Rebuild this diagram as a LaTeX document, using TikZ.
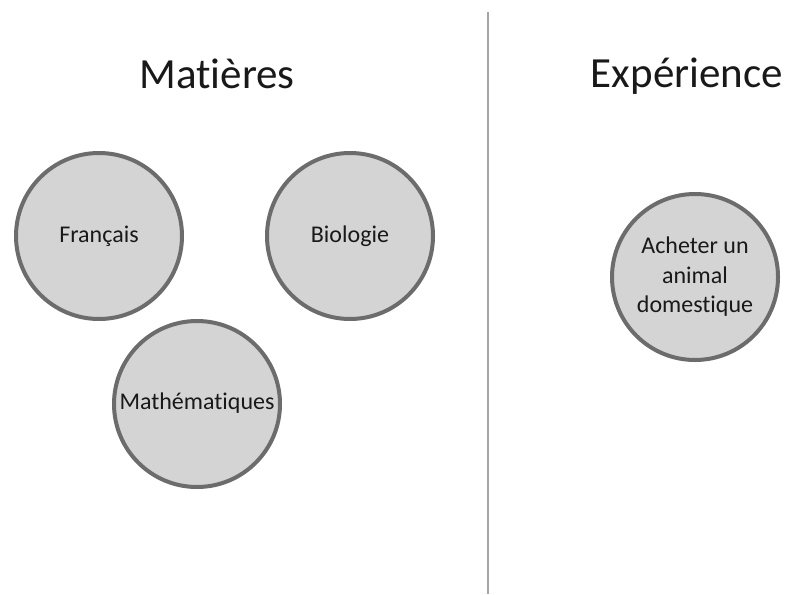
\documentclass[tikz,border=0pt]{standalone}
\usepackage{fontspec}
\setmainfont{Carlito}[Ligatures={NoCommon}]
\begin{document}
\begin{tikzpicture}[x=1pt,y=-1pt,
  theme/.style={circle,draw=gray!85!black,line width=4pt,fill=black!17,
    minimum size=166pt,inner sep=0pt,text=black!90,
    font=\fontsize{24}{29.5}\selectfont,align=center},
  heading/.style={anchor=base,text=black!90,font=\fontsize{43}{50}\selectfont}]
\useasboundingbox (0,0) rectangle (791,594);

\node[heading] (mat) at (217,88) {Matières};
\node[heading] (exp) at (687,87) {Expérience};

\node[theme] (fr) at (99,236) {Français};
\node[theme] (bio) at (350,236) {Biologie};
\node[theme] (math) at (197,404) {\raisebox{6pt}{Mathématiques}};

\node[theme] (pet) at (695,277) {Acheter un\\animal\\domestique};

\coordinate (top) at (488,12);
\coordinate (bot) at (488,594);
\draw [line width=2pt,gray!70] (top) -- (bot);
\end{tikzpicture}
\end{document}
